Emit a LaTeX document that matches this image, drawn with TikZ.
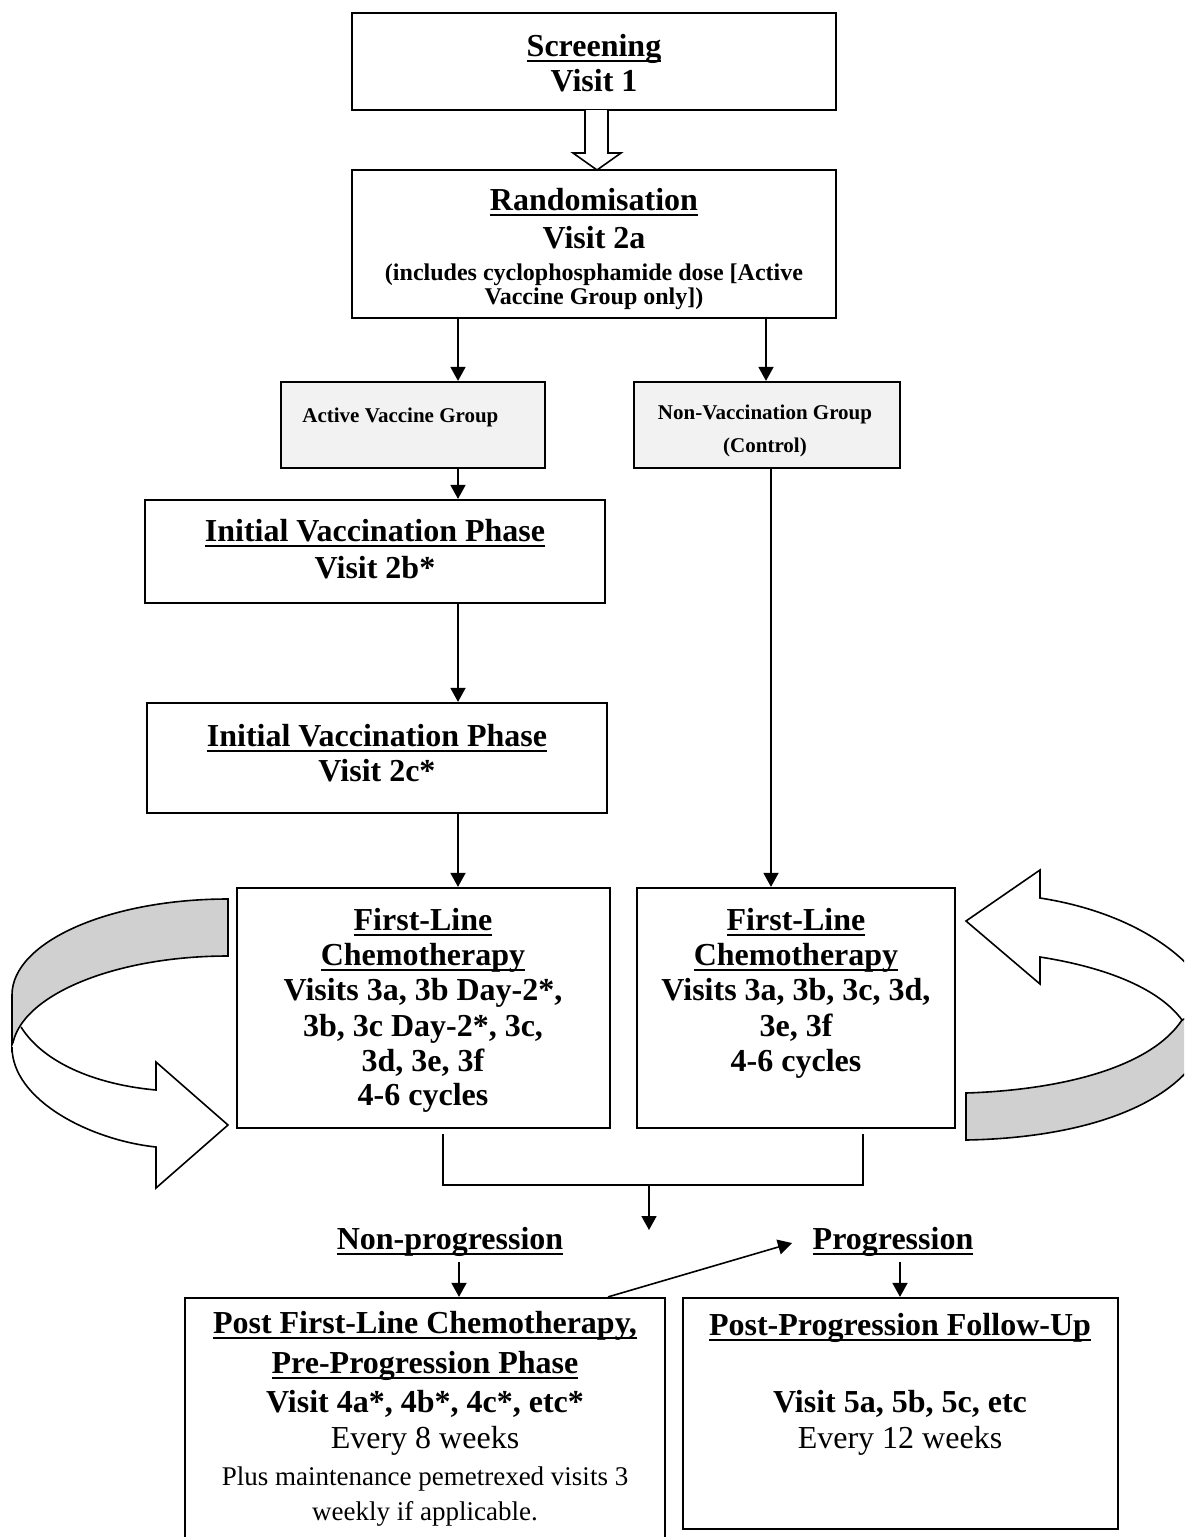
\documentclass[tikz,border=0pt]{standalone}
\usepackage{fontspec}
\setmainfont{Liberation Serif}
\newcommand{\ulh}[1]{\setbox0\hbox{#1}\rlap{\vrule height -2.2pt depth 3.1pt width \wd0}\box0}
\usetikzlibrary{arrows.meta,fit}
\definecolor{boxgray}{HTML}{F2F2F2}
\definecolor{bandgray}{HTML}{D0D0D0}
\begin{document}
\begin{tikzpicture}[x=0.5pt,y=-0.5pt,
  box/.style={draw, line width=1.1pt, inner sep=0pt},
  gbox/.style={box, fill=boxgray},
  conn/.style={line width=0.8pt},
  arr/.style={conn, -{Triangle[length=7pt,width=7.5pt]}},
  shp/.style={line width=0.8pt},
  hd/.style={font=\fontsize{16}{19}\selectfont\bfseries, anchor=base, inner sep=0pt},
  rg/.style={font=\fontsize{16}{19}\selectfont, anchor=base, inner sep=0pt},
  rgs/.style={font=\fontsize{13.5}{16}\selectfont, anchor=base, inner sep=0pt},
  sm/.style={font=\fontsize{12}{14}\selectfont\bfseries, anchor=base, inner sep=0pt},
  gt/.style={font=\fontsize{10.5}{12}\selectfont\bfseries, anchor=base, inner sep=0pt}]
\useasboundingbox (0,0) rectangle (1184,1537);
\clip (0,0) rectangle (1184,1537);

% ---------- boxes ----------
\node[box, fit={(352,13)(836,110)}] (scr) {};
\node[box, fit={(352,170)(836,318)}] (rand) {};
\node[gbox, fit={(281,382)(545,468)}] (act) {};
\node[gbox, fit={(634,382)(900,468)}] (non) {};
\node[box, fit={(145,500)(605,603)}] (iv1) {};
\node[box, fit={(147,703)(607,813)}] (iv2) {};
\node[box, fit={(237,888)(610,1128)}] (chl) {};
\node[box, fit={(637,888)(955,1128)}] (chr) {};
\node[box, fit={(185,1298)(665,1560)}] (pl) {};
\node[box, fit={(683,1298)(1118,1529)}] (pr) {};

% ---------- texts ----------
\node[hd] (scrA) at (594,56) {\ulh{Screening}};
\node[hd] (scrB) at (594,91) {Visit 1};
\node[hd] (randA) at (594,210) {\ulh{Randomisation}};
\node[hd] (randB) at (594,248) {Visit 2a};
\node[sm] (randC) at (594,280) {(includes cyclophosphamide dose [Active};
\node[sm] (randD) at (594,304) {Vaccine Group only])};
\node[gt, anchor=base west] (actT) at (302,422) {Active Vaccine Group};
\node[gt] (nonA) at (765,419) {Non-Vaccination Group};
\node[gt] (nonB) at (765,452) {(Control)};
\node[hd] (iv1A) at (375,541) {\ulh{Initial Vaccination Phase}};
\node[hd] (iv1B) at (375,578) {Visit 2b*};
\node[hd] (iv2A) at (377,746) {\ulh{Initial Vaccination Phase}};
\node[hd] (iv2B) at (377,781) {Visit 2c*};
\node[hd] (chlA) at (423,930) {\ulh{First-Line}};
\node[hd] (chlB) at (423,965) {\ulh{Chemotherapy}};
\node[hd] (chlC) at (423,1000) {Visits 3a, 3b Day-2*,};
\node[hd] (chlD) at (423,1036) {3b, 3c Day-2*, 3c,};
\node[hd] (chlE) at (423,1071) {3d, 3e, 3f};
\node[hd] (chlF) at (423,1105) {4-6 cycles};
\node[hd] (chrA) at (796,930) {\ulh{First-Line}};
\node[hd] (chrB) at (796,965) {\ulh{Chemotherapy}};
\node[hd] (chrC) at (796,1000) {Visits 3a, 3b, 3c, 3d,};
\node[hd] (chrD) at (796,1036) {3e, 3f};
\node[hd] (chrE) at (796,1071) {4-6 cycles};
\node[hd] (np) at (450,1249) {\ulh{Non-progression}};
\node[hd] (pg) at (893,1249) {\ulh{Progression}};
\node[hd] (plA) at (425,1333) {\ulh{Post First-Line Chemotherapy,}};
\node[hd] (plB) at (425,1373) {\ulh{Pre-Progression Phase}};
\node[hd] (plC) at (425,1412) {Visit 4a*, 4b*, 4c*, etc*};
\node[rg] (plD) at (425,1448) {Every 8 weeks};
\node[rgs] (plE) at (425,1485) {Plus maintenance pemetrexed visits 3};
\node[rgs] (plF) at (425,1520) {weekly if applicable.};
\node[hd] (prA) at (900,1335) {\ulh{Post-Progression Follow-Up}};
\node[hd] (prB) at (900,1412) {Visit 5a, 5b, 5c, etc};
\node[rg] (prC) at (900,1448) {Every 12 weeks};

% ---------- hollow block arrow ----------
\draw[shp, fill=white] (585,110) -- (585,153) -- (573,153) -- (597,170)
  -- (621,153) -- (608,153) -- (608,110);

% ---------- connectors ----------
\coordinate (xa) at (458,0);
\coordinate (xb) at (766,0);
\coordinate (xc) at (771,0);
\draw[arr] (rand.south -| xa) -- (act.north -| xa);
\draw[arr] (rand.south -| xb) -- (non.north -| xb);
\draw[arr] (act.south -| xa) -- (iv1.north -| xa);
\draw[arr] (iv1.south -| xa) -- (iv2.north -| xa);
\draw[arr] (iv2.south -| xa) -- (chl.north -| xa);
\draw[arr] (non.south -| xc) -- (chr.north -| xc);

\coordinate (bl) at (443,1134);
\coordinate (br) at (863,1134);
\coordinate (bm) at (649,1185);
\coordinate (bt) at (649,1230);
\draw[conn] (bl) |- (bm) -| (br);
\draw[arr] (bm) -- (bt);

\coordinate (npa) at (459,1262);
\coordinate (pga) at (900,1262);
\draw[arr] (npa) -- (pl.north -| npa);
\draw[arr] (pga) -- (pr.north -| pga);
\coordinate (dgs) at (608,0);
\coordinate (dge) at (792,1243);
\draw[arr] (pl.north -| dgs) -- (dge);

% ---------- left curved arrow ----------
\draw[shp, fill=bandgray] (228,899) .. controls (109,899) and (12,942) .. (12,995)
  -- (12,1052) .. controls (12,999) and (109,956) .. (228,956) -- cycle;
\fill[white] (21,1027) .. controls (45,1065) and (100,1085) .. (156,1090)
  -- (156,1062) -- (228,1125) -- (156,1188) -- (156,1147)
  .. controls (90,1140) and (12,1100) .. (12,1047) -- cycle;
\draw[shp, line join=miter] (21,1027) .. controls (45,1065) and (100,1085) .. (156,1090)
  -- (156,1062) -- (228,1125) -- (156,1188) -- (156,1147)
  .. controls (90,1140) and (12,1100) .. (12,1047);

% ---------- right curved arrow ----------
\draw[shp, fill=bandgray] (1182,1020) .. controls (1150,1068) and (1060,1090) .. (966,1093)
  -- (966,1140) .. controls (1090,1138) and (1215,1100) .. (1215,1000) -- cycle;
\draw[shp, fill=white, line join=miter] (966,921) -- (1040,870) -- (1040,898)
  .. controls (1130,912) and (1195,955) .. (1215,1005) -- (1182,1020)
  .. controls (1160,990) and (1110,968) .. (1040,957) -- (1040,984) -- cycle;
\end{tikzpicture}
\end{document}
